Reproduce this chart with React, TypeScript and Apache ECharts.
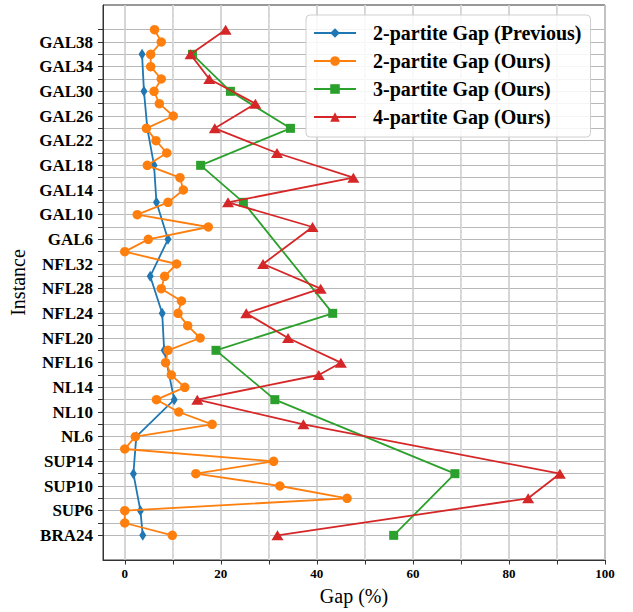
import React, { useEffect, useRef } from "react";
import * as echarts from "echarts";

// Instances, bottom (index 0) to top (index 41). Every other one is labelled.
const instances = [
  "BRA24", "SUP4", "SUP6", "SUP8", "SUP10", "SUP12", "SUP14",
  "NL4", "NL6", "NL8", "NL10", "NL12", "NL14", "NL16",
  "NFL16", "NFL18", "NFL20", "NFL22", "NFL24", "NFL26", "NFL28", "NFL30", "NFL32",
  "GAL4", "GAL6", "GAL8", "GAL10", "GAL12", "GAL14", "GAL16", "GAL18", "GAL20",
  "GAL22", "GAL24", "GAL26", "GAL28", "GAL30", "GAL32", "GAL34", "GAL36", "GAL38", "GAL40",
];

const N = null;
// Gap (%) per instance, aligned with `instances`; null = no point.
const prev2 = [
  3.75, N, 3.26, N, N, 1.8, N, N, 2.4, N, N, 10.3, N, N,
  N, 8.2, N, N, 7.8, N, N, 5.3, N,
  N, 9.0, N, N, 6.6, N, N, 6.1, N, N, 4.7, N, N, 4.0, N, N, 3.6, N, N,
];
const ours2 = [
  9.9, 0, 0, 46.3, 32.3, 14.8, 31.0, 0, 2.2, 18.2, 11.25, 6.6, 12.5, 9.7,
  8.5, 9.0, 15.7, 13.1, 11.1, 11.8, 7.6, 8.3, 10.8,
  0, 4.9, 17.4, 2.6, 9.0, 12.2, 11.5, 4.7, 8.75, 6.5, 4.5, 10.1, 7.2, 6.1, 7.6, 5.4, 5.4, 7.6, 6.2,
];
const ours3 = [
  56.0, N, N, N, N, 68.75, N, N, N, N, N, 31.25, N, N,
  N, 19.0, N, N, 43.3, N, N, N, N,
  N, N, N, N, 24.7, N, N, 15.8, N, N, 34.5, N, N, 22.0, N, N, 14.1, N, N,
];
const ours4 = [
  31.8, N, N, 84.0, N, 90.6, N, N, N, 37.2, N, 15.1, N, 40.4,
  45.0, N, 34.0, N, 25.3, N, 40.8, N, 28.8,
  N, N, 39.1, N, 21.5, N, 47.6, N, 31.7, N, 18.75, N, 27.2, N, 17.6, N, 13.7, N, 21.0,
];

const seriesNames = [
  "2-partite Gap (Previous)",
  "2-partite Gap (Ours)",
  "3-partite Gap (Ours)",
  "4-partite Gap (Ours)",
];
const xMajorTicks = [0, 20, 40, 60, 80, 100];
const xAllTicks = [0, 10, 20, 30, 40, 50, 60, 70, 80, 90, 100];
const xMinorGrid = [10, 30, 50, 70, 90];

const FONT = "'Liberation Serif', 'Times New Roman', serif";

const PAD_LO = ["pad0", "pad1"];
const PAD_HI = ["pad2", "pad3"];
const yCats = [...PAD_LO, ...instances, ...PAD_HI];

function toPairs(vals: (number | null)[]) {
  const out: [number, string][] = [];
  vals.forEach((v, i) => {
    if (v !== null && v !== undefined) out.push([v, instances[i]]);
  });
  return out;
}

export default function App() {
  const ref = useRef<HTMLDivElement>(null);
  useEffect(() => {
    if (!ref.current) return;
    const chart = echarts.init(ref.current, undefined, { renderer: "svg" });
    const first = PAD_LO.length;
    const last = PAD_LO.length + instances.length - 1;
    const isReal = (i: number) => i >= first && i <= last;
    const colors = ["#1f77b4", "#ff7f0e", "#2ca02c", "#d62728"];
    const symbols: any[] = ["diamond", "circle", "rect", "triangle"];
    const sizes: any[] = [[7, 11], 9.5, 9, [12, 10]];
    const dataSets = [prev2, ours2, ours3, ours4];

    const series: any[] = dataSets.map((d, k) => ({
      name: seriesNames[k],
      type: "line",
      data: toPairs(d),
      symbol: symbols[k],
      symbolSize: sizes[k],
      showSymbol: true,
      showAllSymbol: true,
      color: colors[k],
      itemStyle: { color: colors[k] },
      lineStyle: { color: colors[k], width: 1.8 },
      emphasis: { disabled: true },
      z: 3 + k,
    }));
    series[0].markLine = {
      silent: true,
      z: 1,
      symbol: ["none", "none"],
      label: { show: false },
      emphasis: { disabled: true },
      lineStyle: { type: [3, 3], color: "#e0e0e0", width: 1 },
      data: xMinorGrid.map((v) => ({ xAxis: v })),
    };

    chart.setOption({
      animation: false,
      grid: {
        left: 103,
        right: 28,
        top: 5,
        bottom: 52,
        show: true,
        borderColor: "#333",
        borderWidth: 1,
        backgroundColor: "transparent",
      },
      legend: {
        show: true,
        orient: "vertical",
        left: 306,
        top: 15,
        itemWidth: 42,
        itemHeight: 12,
        itemGap: 8,
        padding: [8, 9, 10, 7],
        backgroundColor: "rgba(255,255,255,0.85)",
        borderColor: "#cfcfcf",
        borderWidth: 1,
        borderRadius: 4,
        data: seriesNames,
        textStyle: {
          fontFamily: FONT,
          fontWeight: "bold",
          fontSize: 20,
          color: "#000",
          lineHeight: 20,
          padding: [0, 0, 0, 12],
        },
      },
      xAxis: {
        type: "value",
        min: -4.53,
        max: 100,
        splitNumber: 5,
        name: "Gap (%)",
        nameLocation: "middle",
        nameGap: 26,
        nameTextStyle: { fontFamily: FONT, fontSize: 20, color: "#000" },
        axisLine: { show: true, onZero: false, lineStyle: { color: "#333", width: 1 } },
        axisTick: {
          show: true,
          length: 4.5,
          customValues: xAllTicks,
          lineStyle: { color: "#333", width: 1 },
        },
        axisLabel: {
          customValues: xMajorTicks,
          formatter: (v: number) => (Math.abs(v % 20) < 1e-6 ? String(v) : ""),
          fontFamily: FONT,
          fontWeight: "bold",
          fontSize: 13,
          color: "#000",
          margin: 7,
        },
        splitLine: { show: true, lineStyle: { color: "#cccccc", width: 1.6 } },
      },
      yAxis: {
        type: "category",
        data: yCats,
        boundaryGap: false,
        name: "Instance",
        nameLocation: "middle",
        nameGap: 72,
        nameTextStyle: { fontFamily: FONT, fontSize: 20, color: "#000" },
        axisLine: { show: true, onZero: false, lineStyle: { color: "#333", width: 1 } },
        axisTick: {
          show: true,
          length: 5,
          interval: (i: number) => isReal(i),
          lineStyle: { color: "#333", width: 1 },
        },
        axisLabel: {
          interval: (i: number) => isReal(i) && (i - first) % 2 === 0,
          fontFamily: FONT,
          fontWeight: "bold",
          fontSize: 17,
          color: "#000",
          margin: 10,
        },
        splitLine: {
          show: true,
          interval: (i: number) => isReal(i),
          lineStyle: { color: "#b8b8b8", width: 1 },
        },
      },
      series,
    });
    return () => chart.dispose();
  }, []);
  return (
    <div
      ref={ref}
      style={{ position: "absolute", left: 0, top: 0, width: 633, height: 612 }}
    />
  );
}
